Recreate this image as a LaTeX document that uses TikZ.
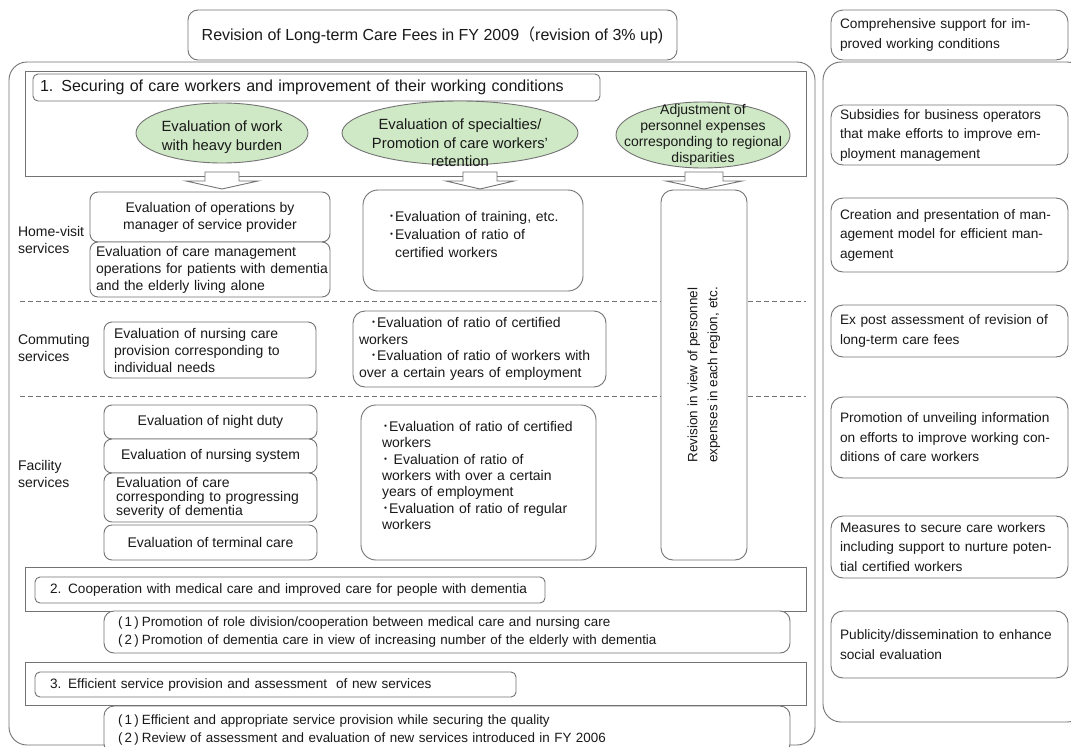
\documentclass[tikz,border=0pt]{standalone}
\usepackage{fontspec}
\setmainfont{Liberation Sans}
\newfontfamily\cjk{Noto Sans CJK JP}
\usetikzlibrary{shapes.geometric}
\definecolor{lc}{RGB}{115,115,115}
\definecolor{eg}{RGB}{207,232,197}
\definecolor{tc}{RGB}{25,25,25}
\newcommand{\myfs}[2]{\fontsize{#1pt}{#2pt}\selectfont}
\newcommand{\bul}{{\cjk ･}}
\newcommand{\lp}{{\cjk （}}
\newcommand{\num}[1]{(\,#1\,)\hspace{3pt}}
\newcommand{\barrow}[3]{\draw[blk] (#1-#2,172) -- (#1+#2,172) -- (#1+#2,181) -- (#1+#3,181) -- (#1,189) -- (#1-#3,181) -- (#1-#2,181) -- cycle;}
\begin{document}
\begin{tikzpicture}[x=1pt,y=-1pt,
  every node/.style={inner sep=0pt, outer sep=0pt, text=tc},
  rbox/.style={draw=lc, line width=0.9pt, fill=white, rounded corners=#1, anchor=north west},
  rbox/.default=8pt,
  sbox/.style={draw=lc, line width=0.9pt, fill=white, anchor=north west},
  sz/.style 2 args={minimum width=#1pt, minimum height=#2pt},
  ell/.style={ellipse, draw=lc, line width=0.9pt, fill=eg, inner sep=0pt},
  rtxt/.style={font=\myfs{13.7}{19.5}, align=left, inner xsep=9pt, text width=219pt},
  dashline/.style={draw=lc, line width=0.9pt, dash pattern=on 5pt off 3pt},
  blk/.style={draw=lc, line width=0.9pt, fill=white}]
\useasboundingbox (0,0) rectangle (1071,747);
\clip (0,0) rectangle (1071,747);

% containers
\node[rbox=18pt, sz={806}{683}] (bigL) at (9,62) {};
\node[rbox=18pt, sz={262}{660}] (bigR) at (823,62) {};

% title
\node[rbox=10pt, sz={489}{50}, font=\myfs{16}{19}] (title) at (188,10) {Revision of Long-term Care Fees in FY 2009\lp revision of 3\% up)};

% right column
\node[rbox=12pt, sz={237}{50}, rtxt] (rc0) at (831,10) {Comprehensive support for im-\\proved working conditions};
\node[rbox=12pt, sz={237}{60}, rtxt] (rc1) at (831,105) {Subsidies for business operators\\that make efforts to improve em-\\ployment management};
\node[rbox=12pt, sz={237}{74}, rtxt] (rc2) at (831,198) {Creation and presentation of man-\\agement model for efficient man-\\agement};
\node[rbox=12pt, sz={237}{52}, rtxt] (rc3) at (831,305) {Ex post assessment of revision of\\long-term care fees};
\node[rbox=12pt, sz={237}{81}, rtxt] (rc4) at (831,397) {Promotion of unveiling information\\on efforts to improve working con-\\ditions of care workers};
\node[rbox=12pt, sz={237}{62}, rtxt] (rc5) at (831,516) {Measures to secure care workers\\including support to nurture poten-\\tial certified workers};
\node[rbox=12pt, sz={237}{67}, rtxt] (rc6) at (831,611) {Publicity/dissemination to enhance\\social evaluation};

% section 1
\node[sbox, sz={781}{105}] (sec1) at (25,71) {};
\node[rbox=5pt, sz={567}{27}, font=\myfs{16}{19}, align=left, inner xsep=7pt, text width=553pt] (h1) at (33,74) {1. Securing of care workers and improvement of their working conditions};

\node[ell, minimum width=172pt, minimum height=60pt,
  label={[font=\myfs{14.8}{19}, align=center, yshift=-4pt]center:{Evaluation of work\\with heavy burden}}] (e1) at (222,133) {};
\node[ell, minimum width=236pt, minimum height=64pt,
  label={[font=\myfs{14.8}{18.5}, align=center, yshift=-10pt]center:{Evaluation of specialties/\\Promotion of care workers'\\retention}}] (e2) at (460,133) {};
\node[ell, minimum width=174pt, minimum height=66pt,
  label={[font=\myfs{14}{16}, align=center]center:{Adjustment of\\personnel expenses\\corresponding to regional\\disparities}}] (e3) at (703,135) {};

% separators
\draw[dashline] (20,301) -- (806,301);
\draw[dashline] (20,396) -- (806,396);

% row labels
\node[font=\myfs{14}{17}, align=left, anchor=west] (lh) at (18,240) {Home-visit\\services};
\node[font=\myfs{14}{17}, align=left, anchor=west] (lcm) at (18,348) {Commuting\\services};
\node[font=\myfs{14}{17}, align=left, anchor=west] (lf) at (18,474) {Facility\\services};

% home-visit
\node[rbox=8pt, sz={240}{50}, font=\myfs{14}{17}, align=center] (b1) at (90,192) {Evaluation of operations by\\manager of service provider};
\node[rbox=8pt, sz={240}{55}, font=\myfs{14}{17}, align=left, inner xsep=6pt, text width=228pt] (b2) at (90,242) {\mbox{Evaluation of care management}\\\mbox{operations for patients with dementia}\\\mbox{and the elderly living alone}};
\node[rbox=15pt, sz={220}{101}, font=\myfs{14}{18}, align=left, inner xsep=25pt, text width=170pt, text depth=49pt] (b3) at (363,190) {\mbox{\bul Evaluation of training, etc.}\\\mbox{\bul Evaluation of ratio of}\\\mbox{\phantom{\bul}certified workers}};

% commuting
\node[rbox=8pt, sz={212}{56}, font=\myfs{14}{17}, align=left, inner xsep=10pt, text width=192pt] (c1) at (104,322) {Evaluation of nursing care\\provision corresponding to\\individual needs};
\node[rbox=12pt, sz={253}{76}, font=\myfs{14}{16.5}, align=left, inner xsep=6pt, text width=241pt] (c2) at (353,311) {\mbox{\hspace{11pt}\bul Evaluation of ratio of certified}\\\mbox{workers}\\\mbox{\hspace{11pt}\bul Evaluation of ratio of workers with}\\\mbox{over a certain years of employment}};

% facility
\node[rbox=8pt, sz={213}{34}, font=\myfs{14}{17}] (f1) at (104,405) {Evaluation of night duty};
\node[rbox=8pt, sz={213}{34}, font=\myfs{14}{17}] (f2) at (104,439) {Evaluation of nursing system};
\node[rbox=8pt, sz={213}{49}, font=\myfs{14}{14}, align=left, inner xsep=12pt, text width=189pt] (f3) at (104,473) {\mbox{Evaluation of care}\\\mbox{corresponding to progressing}\\\mbox{severity of dementia}};
\node[rbox=8pt, sz={213}{35}, font=\myfs{14}{17}] (f4) at (104,525) {Evaluation of terminal care};
\node[rbox=15pt, sz={235}{155}, font=\myfs{14}{16.3}, align=left, inner xsep=21pt, text width=193pt, text depth=112pt] (f5) at (361,405) {\mbox{\bul Evaluation of ratio of certified}\\workers\\\bul\ Evaluation of ratio of\\workers with over a certain\\years of employment\\\mbox{\bul Evaluation of ratio of regular}\\workers};

% regional revision
\node[rbox=12pt, minimum width=370pt, minimum height=86pt, rotate=90, anchor=center, font=\myfs{13.5}{20}, align=center] (rev) at (704,375) {Revision in view of personnel\\expenses in each region, etc.};

% block arrows
\barrow{222}{17}{36}
\barrow{480}{17}{34}
\barrow{704}{19}{38}

% section 2
\node[sbox, sz={781}{44}] (sec2) at (25,567) {};
\node[rbox=5pt, sz={510}{26}, font=\myfs{13.6}{17}, align=left, inner xsep=15pt, text width=480pt] (h2) at (35,577) {\mbox{2. Cooperation with medical care and improved care for people with dementia}};
\node[rbox=10pt, sz={686}{42}, font=\myfs{13.4}{17.5}, align=left, inner xsep=14pt, text width=658pt] (s2) at (104,611) {\num{1}Promotion of role division/cooperation between medical care and nursing care\\\num{2}Promotion of dementia care in view of increasing number of the elderly with dementia};

% section 3
\node[sbox, sz={781}{43}] (sec3) at (25,662) {};
\node[rbox=5pt, sz={481}{25}, font=\myfs{13.6}{17}, align=left, inner xsep=15pt, text width=451pt] (h3) at (35,672) {3. Efficient service provision and assessment\ \ of new services};
\node[rbox=10pt, sz={686}{48}, font=\myfs{13.4}{17.5}, align=left, inner xsep=14pt, text width=658pt] (s3) at (104,706) {\num{1}Efficient and appropriate service provision while securing the quality\\\num{2}Review of assessment and evaluation of new services introduced in FY 2006};
\end{tikzpicture}
\end{document}
